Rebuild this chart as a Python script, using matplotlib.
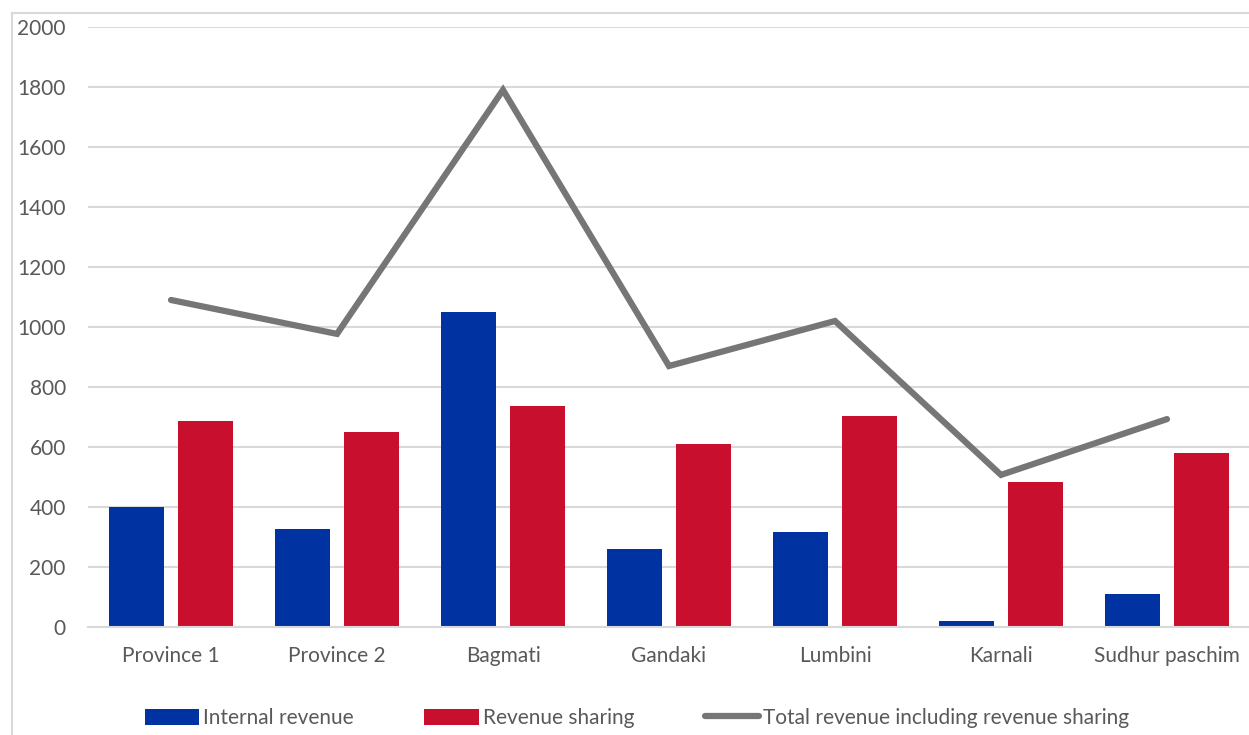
import matplotlib
matplotlib.use("Agg")
import matplotlib.pyplot as plt
import numpy as np
from matplotlib.lines import Line2D

categories = ["Province 1", "Province 2", "Bagmati", "Gandaki", "Lumbini", "Karnali", "Sudhur paschim"]
internal_revenue = [400, 327, 1050, 260, 317, 20, 110]
revenue_sharing = [687, 650, 737, 610, 703, 483, 580]
total_revenue = [1090, 977, 1790, 870, 1020, 507, 693]
yticks = [0, 200, 400, 600, 800, 1000, 1200, 1400, 1600, 1800, 2000]

BLUE = "#0033a1"
RED = "#c8102e"
GREY = "#767676"
TXT = "#595959"
GRID = "#d9d9d9"

plt.rcParams['font.family'] = ['Lato', 'DejaVu Sans']

fig = plt.figure(figsize=(12.49, 7.35), dpi=100)
ax = fig.add_axes([88/1249, 1-627/735, 1162/1249, 600/735])

x = np.arange(len(categories))
w = 0.33
off = 0.21
b1 = ax.bar(x - off, internal_revenue, width=w, color=BLUE, label="Internal revenue", zorder=2)
b2 = ax.bar(x + off, revenue_sharing, width=w, color=RED, label="Revenue sharing", zorder=2)
l1, = ax.plot(x, total_revenue, color=GREY, lw=4.5, solid_capstyle='round', solid_joinstyle='miter',
              label="Total revenue including revenue sharing", zorder=3)

ax.set_xlim(-0.5, len(categories) - 0.5)
ax.set_ylim(0, 2000)
ax.set_yticks(yticks)
ax.set_yticklabels([str(v) for v in yticks])
ax.set_xticks(x)
ax.set_xticklabels(categories)
ax.tick_params(axis='both', length=0, labelsize=15, colors=TXT)
ax.tick_params(axis='y', pad=16)
ax.tick_params(axis='x', pad=14)
ax.grid(axis='y', color=GRID, lw=1.5, zorder=0)
for s in ['top', 'right', 'left']:
    ax.spines[s].set_visible(False)
ax.spines['bottom'].set_color(GRID)
ax.spines['bottom'].set_linewidth(1.5)
ax.set_axisbelow(True)

# outer chart frame (partially cut off)
fig.add_artist(Line2D([12/1249, 12/1249], [0, 1-13/735], color=GRID, lw=1.5, transform=fig.transFigure))
fig.add_artist(Line2D([12/1249, 1], [1-13/735, 1-13/735], color=GRID, lw=1.5, transform=fig.transFigure))

leg = fig.legend([b1, b2, l1],
                 ["Internal revenue", "Revenue sharing", "Total revenue including revenue sharing"],
                 loc='center', bbox_to_anchor=(637/1249, 1-718/735), ncol=3,
                 frameon=False, fontsize=15, handlelength=2.6, handleheight=0.8,
                 handletextpad=0.2, columnspacing=3.4, labelcolor=TXT)

fig.savefig("out.png", dpi=100)
